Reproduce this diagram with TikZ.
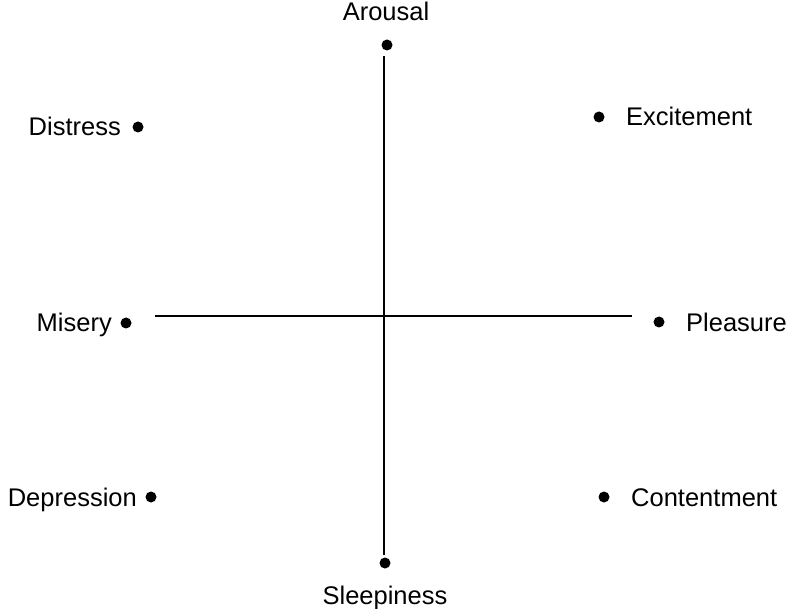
\documentclass[tikz,border=0pt]{standalone}
\usepackage{fontspec}
\setmainfont{Liberation Sans}
\begin{document}
\begin{tikzpicture}[x=1pt,y=-1pt,
  lbl/.style={inner sep=0pt,font=\fontsize{25.5}{29}\selectfont},
  pt/.style={circle,fill=black,inner sep=0pt,minimum size=11pt},
  axis/.style={line width=1.3pt}]
\useasboundingbox (0,0) rectangle (787,609);
% dots
\node[pt] (dA) at (387,45) {};
\node[pt] (dS) at (385,563) {};
\node[pt] (dD) at (138,127) {};
\node[pt] (dE) at (599,117) {};
\node[pt] (dM) at (126,323) {};
\node[pt] (dP) at (659,322) {};
\node[pt] (dDe) at (151,497) {};
\node[pt] (dC) at (604,497) {};
% labels
\node[lbl,anchor=base] (tA) at (386,21) {Arousal};
\node[lbl,anchor=base] (tS) at (385,604) {Sleepiness};
\node[lbl,anchor=base east] (tD) at (121,136) {Distress};
\node[lbl,anchor=base west] (tE) at (626,126) {Excitement};
\node[lbl,anchor=base east] (tM) at (112,332) {Misery};
\node[lbl,anchor=base west] (tP) at (686,332) {Pleasure};
\node[lbl,anchor=base east] (tDe) at (137,506) {Depression};
\node[lbl,anchor=base west] (tC) at (631,506) {Contentment};
% axes
\coordinate (vt) at (384,56);
\coordinate (vb) at (384,555);
\coordinate (hl) at (155,316);
\coordinate (hr) at (632,316);
\draw[axis] (vt) -- (vb);
\draw[axis] (hl) -- (hr);
\end{tikzpicture}
\end{document}
